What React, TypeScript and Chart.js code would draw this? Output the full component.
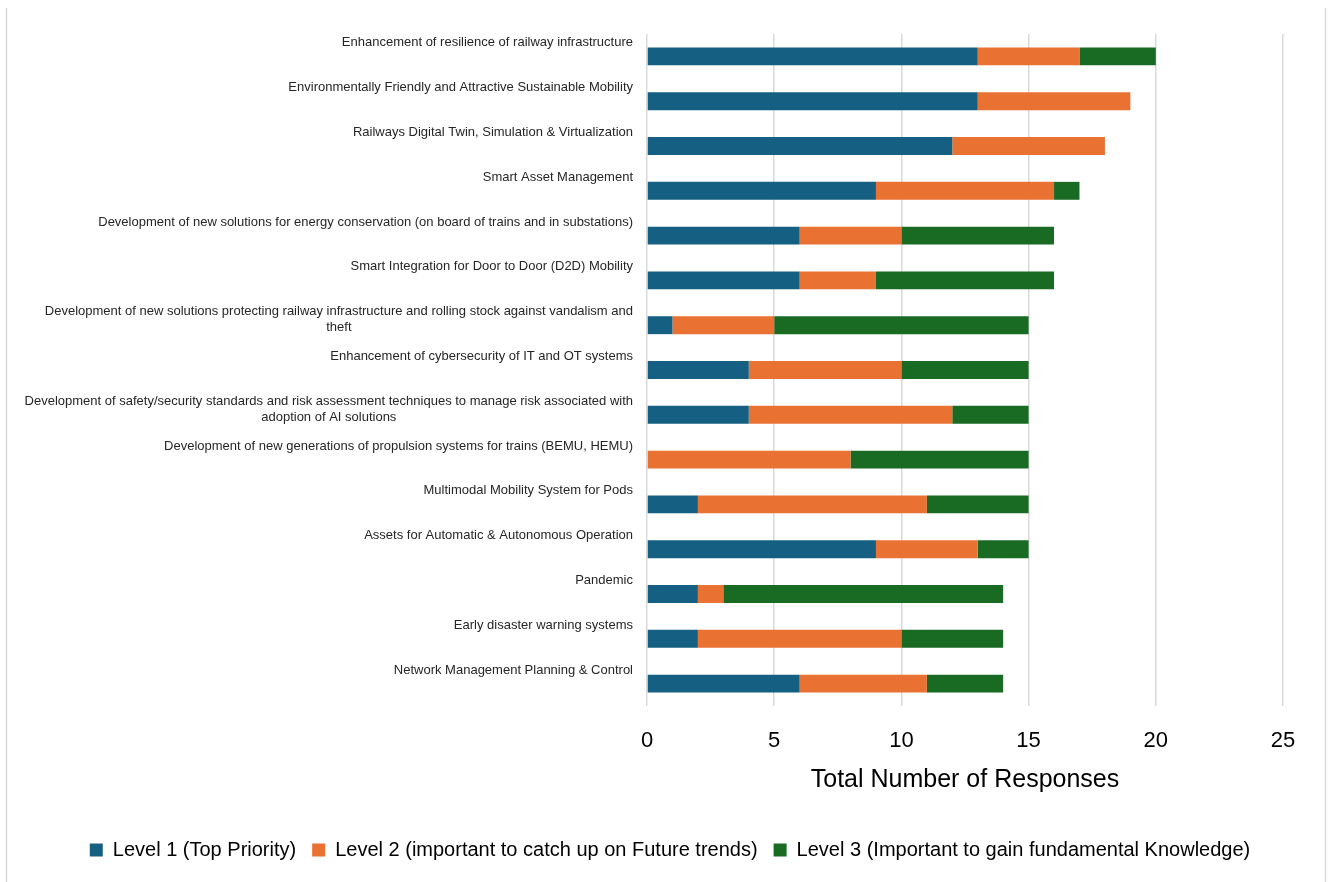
import React, { useEffect, useRef } from 'react';
import { Chart, registerables } from 'chart.js';

Chart.register(...registerables);

const FONT = "'Liberation Sans', Arial, sans-serif";

const categories: string[][] = [
  ['Enhancement of resilience of railway infrastructure'],
  ['Environmentally Friendly and Attractive Sustainable Mobility'],
  ['Railways Digital Twin, Simulation & Virtualization'],
  ['Smart Asset Management'],
  ['Development of new solutions for energy conservation (on board of trains and in substations)'],
  ['Smart Integration for Door to Door (D2D) Mobility'],
  ['Development of new solutions protecting railway infrastructure and rolling stock against vandalism and', 'theft'],
  ['Enhancement of cybersecurity of IT and OT systems'],
  ['Development of safety/security standards and risk assessment techniques to manage risk associated with', 'adoption of AI solutions'],
  ['Development of new generations of propulsion systems for trains (BEMU, HEMU)'],
  ['Multimodal Mobility System for Pods'],
  ['Assets for Automatic & Autonomous Operation'],
  ['Pandemic'],
  ['Early disaster warning systems'],
  ['Network Management Planning & Control'],
];

const level1 = [13, 13, 12, 9, 6, 6, 1, 4, 4, 0, 2, 9, 2, 2, 6];
const level2 = [4, 6, 6, 7, 4, 3, 4, 6, 8, 8, 9, 4, 1, 8, 5];
const level3 = [3, 0, 0, 1, 6, 7, 10, 5, 3, 7, 4, 2, 11, 4, 3];

const seriesNames = [
  'Level 1 (Top Priority)',
  'Level 2 (important to catch up on Future trends)',
  'Level 3 (Important to gain fundamental Knowledge)',
];
const seriesColors = ['#156082', '#E97132', '#196B24'];

const xTicks = [0, 5, 10, 15, 20, 25];
const xTitle = 'Total Number of Responses';

const categoryLabelPlugin = {
  id: 'categoryLabels',
  afterDraw(chart: any) {
    const { ctx, scales } = chart;
    const y = scales.y;
    const x = scales.x;
    const right = x.left - 14;
    ctx.save();
    ctx.font = `13px ${FONT}`;
    ctx.fillStyle = '#262626';
    ctx.textBaseline = 'middle';
    ctx.textAlign = 'center';
    categories.forEach((lines, i) => {
      const cy = y.getPixelForValue(i);
      const w = Math.max(...lines.map((l) => ctx.measureText(l).width));
      const cx = right - w / 2;
      lines.forEach((line, j) => {
        ctx.fillText(line, cx, cy - 13.5 + j * 16);
      });
    });
    ctx.restore();
  },
};

const frameLinesPlugin = {
  id: 'frameLines',
  beforeDraw(chart: any) {
    const { ctx } = chart;
    ctx.save();
    ctx.strokeStyle = '#d9d9d9';
    ctx.lineWidth = 1.5;
    ctx.beginPath();
    ctx.moveTo(6.5, 8);
    ctx.lineTo(6.5, 882);
    ctx.moveTo(1325.5, 8);
    ctx.lineTo(1325.5, 882);
    ctx.stroke();
    ctx.restore();
  },
};

export default function App() {
  const canvasRef = useRef<HTMLCanvasElement | null>(null);

  useEffect(() => {
    if (!canvasRef.current) return;
    Chart.defaults.font.family = FONT;
    const chart = new Chart(canvasRef.current, {
      type: 'bar',
      data: {
        labels: categories.map((c) => c.join(' ')),
        datasets: [level1, level2, level3].map((vals, i) => ({
          label: seriesNames[i],
          data: vals,
          backgroundColor: seriesColors[i],
          borderWidth: 0,
          barPercentage: 0.4,
          categoryPercentage: 1.0,
        })),
      },
      options: {
        indexAxis: 'y',
        animation: false,
        responsive: false,
        devicePixelRatio: 1,
        layout: { padding: { top: 34, right: 47, left: 57, bottom: 12 } },
        plugins: {
          legend: {
            position: 'bottom',
            labels: {
              boxWidth: 13,
              boxHeight: 13,
              padding: 16,
              color: '#000',
              font: { size: 20, family: FONT },
            },
          },
          tooltip: { enabled: false },
        },
        scales: {
          x: {
            type: 'linear',
            stacked: true,
            min: 0,
            max: 25,
            afterBuildTicks: (s: any) => {
              s.ticks = xTicks.map((v) => ({ value: v }));
            },
            afterFit: (s: any) => {
              s.height = 118;
            },
            ticks: { color: '#000', font: { size: 22, family: FONT }, padding: 22 },
            grid: { color: '#d9d9d9', lineWidth: 1.5, drawTicks: false },
            border: { display: false },
            title: {
              display: true,
              text: xTitle,
              color: '#000',
              font: { size: 25, family: FONT },
              padding: { top: 0, bottom: 29 },
            },
          },
          y: {
            type: 'category',
            stacked: true,
            ticks: { display: false },
            grid: { display: false },
            border: { display: false },
            afterFit: (s: any) => {
              s.width = 590;
            },
          },
        },
      } as any,
      plugins: [categoryLabelPlugin, frameLinesPlugin],
    });
    return () => chart.destroy();
  }, []);

  return (
    <div style={{ position: 'fixed', left: 0, top: 0, width: 1330, height: 882, background: '#fff' }}>
      <canvas ref={canvasRef} width={1330} height={882} style={{ display: 'block' }} />
    </div>
  );
}
